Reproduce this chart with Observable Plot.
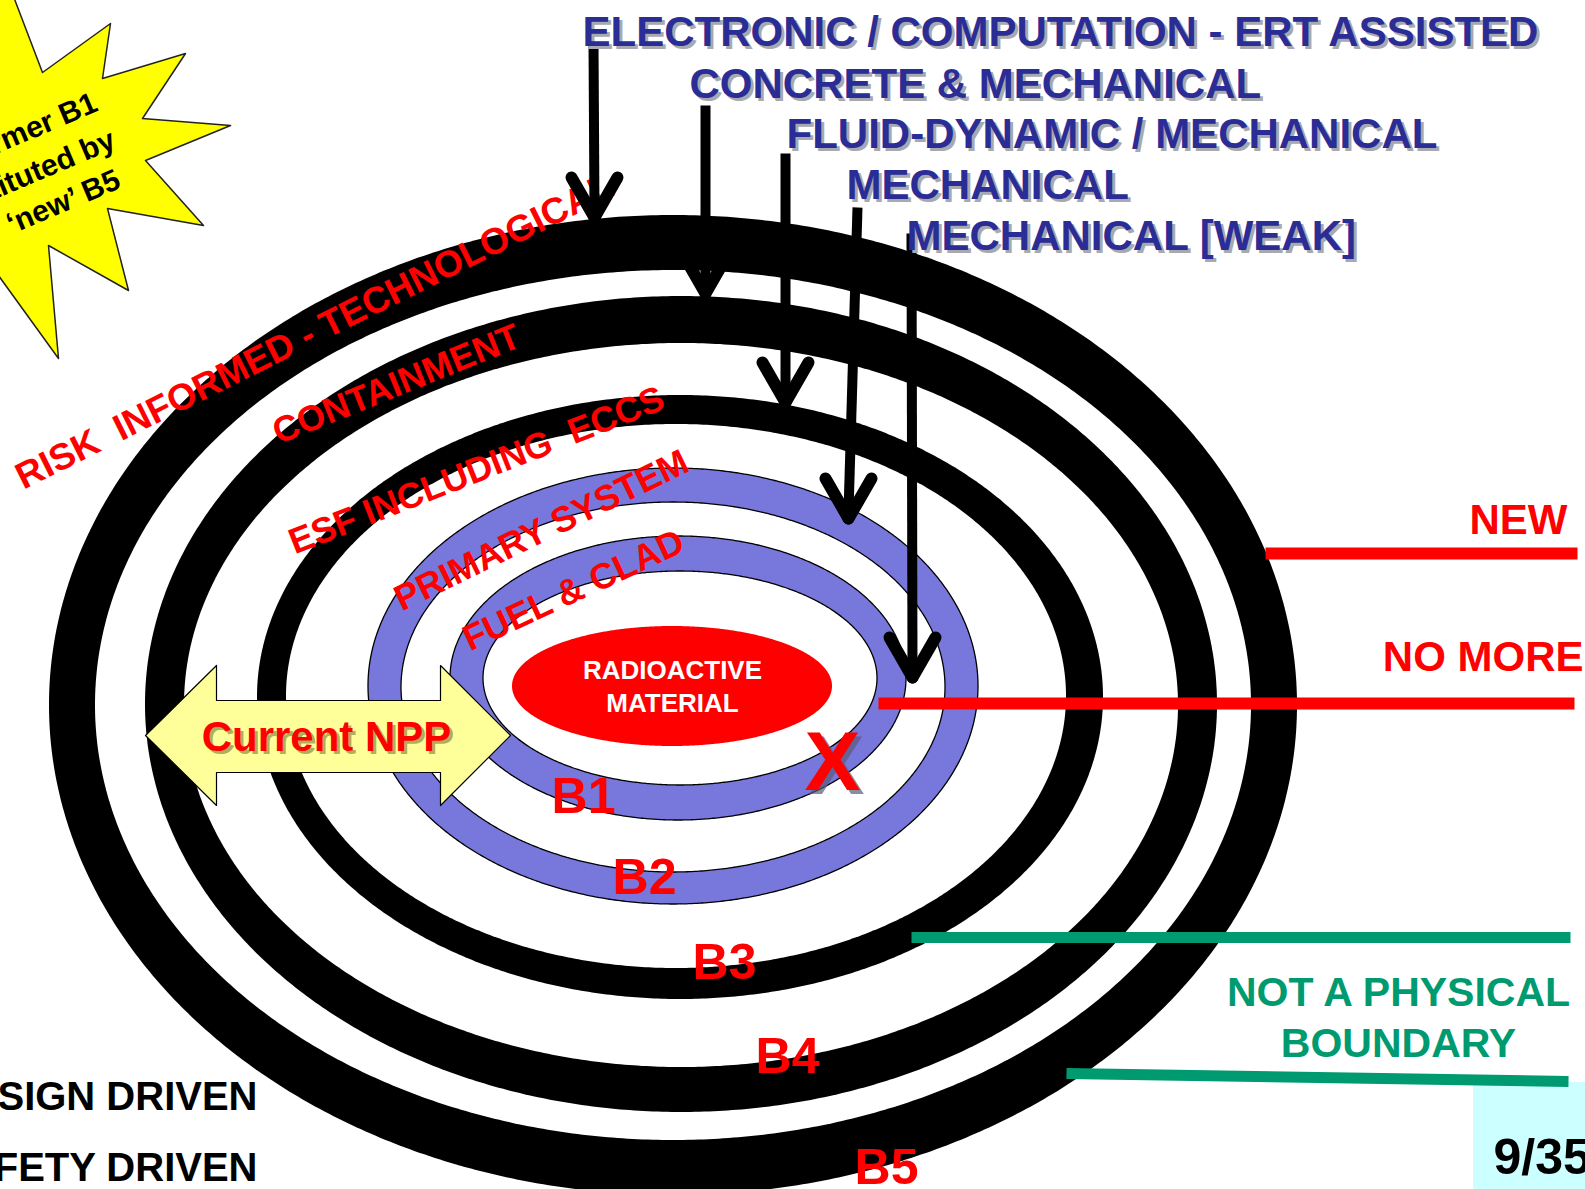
<!DOCTYPE html>
<html><head><meta charset="utf-8">
<script src="https://cdn.jsdelivr.net/npm/d3@7"></script>
<script src="https://cdn.jsdelivr.net/npm/@observablehq/plot@0.6"></script>
<style>html,body{margin:0;padding:0;overflow:hidden;background:#fff}</style>
</head><body><div id="chart"></div>
<script>
// ---------- data (pixel space of the 1585x1189 slide) ----------
const W = 1585, H = 1189;

// barrier rings, outermost first: outer ellipse and inner ellipse
const ringNames = ["B5", "B4", "B3", "B2", "B1"];
const ringCx    = [673, 681, 680, 673, 678];
const ringCy    = [705, 704, 697, 686, 678];
const ringRxOut = [624, 536, 423, 305, 228];
const ringRyOut = [490, 408, 302, 218, 142];
const ringCxIn  = [673, 681, 676, 673, 680];
const ringCyIn  = [705, 705, 696, 687, 678];
const ringRxIn  = [578, 497, 390, 272, 197];
const ringRyIn  = [435, 362, 272, 185, 107];
const ringFill  = ["#000000", "#000000", "#000000", "#7878dc", "#7878dc"];
const ringEdge  = [false, false, false, true, true];

// radioactive core
const core = {cx: 672, cy: 686, rx: 160, ry: 60};
const coreText = ["RADIOACTIVE", "MATERIAL"];
const coreTextY = [670, 703];

// labels along the rings
const ringLabels = ["RISK  INFORMED - TECHNOLOGICAL", "CONTAINMENT", "ESF INCLUDING  ECCS", "PRIMARY SYSTEM", "FUEL & CLAD"];
const ringLabelX = [314, 396, 476, 541, 573];
const ringLabelY = [331, 384, 470, 530, 590];
const ringLabelSize = [37, 36, 36, 36, 36];
const ringLabelAngle = [-26.5, -22, -21.5, -26, -25];

// B labels
const bLabels = ["B1", "B2", "B3", "B4", "B5"];
const bLabelX = [583, 644, 724, 787, 886];
const bLabelY = [796, 877, 962, 1056, 1167];

// headings (blue) with their arrows
const headingText = ["ELECTRONIC / COMPUTATION - ERT ASSISTED", "CONCRETE & MECHANICAL", "FLUID-DYNAMIC / MECHANICAL", "MECHANICAL", "MECHANICAL [WEAK]"];
const headingX = [582, 689, 786, 846, 906];
const headingY = [45, 97, 147, 198, 249];
const arrowTopX = [593, 705, 785, 857, 911];
const arrowTopY = [42, 105, 153, 207, 233];
const arrowTipX = [594, 705, 785, 848, 912];
const arrowTipY = [217, 293, 402, 518, 677];

// "Current NPP" double arrow outline
const nppX = [145, 216, 216, 440, 440, 510, 440, 440, 216, 216, 145];
const nppY = [735, 665, 700, 700, 665, 735, 805, 772, 772, 805, 735];

// yellow star outline
const starX = [5, 42, 110, 102, 185, 142, 230, 145, 203, 107, 128, 48, 58, -10, -80, -30, -80, -20, 5];
const starY = [-25, 72, 23, 78, 53, 118, 125, 160, 225, 208, 290, 245, 358, 264, 250, 150, 60, -40, -25];
const starText = ["Former B1", "substituted by", "\u2018new\u2019 B5"];
const starTextX = [95, 113, 118];
const starTextY = [101, 138, 178];

// right-side legend lines and labels
const redLines = [{x1: 1265, y1: 553, x2: 1577, y2: 553}, {x1: 878, y1: 703, x2: 1574, y2: 703}];
const greenLines = [{x1: 911, y1: 937, x2: 1570, y2: 937}, {x1: 1066, y1: 1073, x2: 1568, y2: 1081}];
const redLegend = ["NEW", "NO MORE"];
const redLegendX = [1567, 1583];
const redLegendY = [533, 670];
const greenLegend = ["NOT A PHYSICAL", "BOUNDARY"];
const greenLegendX = [1398, 1398];
const greenLegendY = [1005, 1056];

// bottom-left notes and page number
const notes = ["DESIGN DRIVEN", "SAFETY DRIVEN"];
const notesX = [257, 257];
const notesY = [1109, 1180];
const pageBox = {x1: 1473, x2: 1600, y1: 1082, y2: 1200};
const pageText = "9/35";

// ---------- helpers ----------
const FONT = "Liberation Sans, Arial, Helvetica, sans-serif";
function ellipse(cx, cy, rx, ry) {
  const n = 360;
  return d3.range(n + 1).map(i => {
    const t = Math.PI * i / n;
    return {x: cx - rx * Math.cos(t), y1: cy - ry * Math.sin(t), y2: cy + ry * Math.sin(t)};
  });
}
function ell(cx, cy, rx, ry, fill, edge) {
  return Plot.areaY(ellipse(cx, cy, rx, ry), {x: "x", y1: "y1", y2: "y2", curve: "linear",
    fill, stroke: edge ? "#000" : "none", strokeWidth: 1.3});
}
function rows(texts, xs, ys) {
  return texts.map((t, i) => ({t, x: xs[i], y: ys[i]}));
}
function poly(xs, ys) { return xs.map((x, i) => ({x, y: ys[i]})); }

const ringMarks = [];
ringNames.forEach((n, i) => {
  ringMarks.push(ell(ringCx[i], ringCy[i], ringRxOut[i], ringRyOut[i], ringFill[i], ringEdge[i]));
  ringMarks.push(ell(ringCxIn[i], ringCyIn[i], ringRxIn[i], ringRyIn[i], "#ffffff", ringEdge[i]));
});

const arrowIdx = d3.range(arrowTipX.length);
const heads = arrowIdx.flatMap(i => [-1, 1].map(s => ({x1: arrowTipX[i] + s * 23, y1: arrowTipY[i] - 40, x2: arrowTipX[i], y2: arrowTipY[i]})));

const chart = Plot.plot({
  width: W, height: H, margin: 0,
  x: {domain: [0, W], range: [0, W], axis: null},
  y: {domain: [0, H], range: [0, H], axis: null},
  style: {background: "white", overflow: "hidden"},
  marks: [
    ...ringMarks,
    ell(core.cx, core.cy, core.rx, core.ry, "#ff0000", false),
    Plot.text(rows(coreText, [core.cx, core.cx], coreTextY), {x: "x", y: "y", text: "t", fill: "white",
      fontFamily: FONT, fontWeight: "bold", fontSize: 26, textAnchor: "middle"}),
    // ring labels
    ...ringLabels.map((s, i) => Plot.text([{t: s, x: ringLabelX[i], y: ringLabelY[i]}], {x: "x", y: "y", text: "t",
      fill: "#ff0000", fontFamily: FONT, fontWeight: "bold", fontSize: ringLabelSize[i], rotate: ringLabelAngle[i], textAnchor: "middle"})),
    // Current NPP double arrow
    Plot.line(poly(nppX, nppY), {x: "x", y: "y", fill: "#ffff99", stroke: "#000", strokeWidth: 1.2, curve: "linear"}),
    Plot.text([{t: "Current NPP", x: 326, y: 737}], {x: "x", y: "y", text: "t", fill: "#8a8a40", fillOpacity: 0.7, dx: 3, dy: 3,
      fontFamily: FONT, fontWeight: "bold", fontSize: 42, textAnchor: "middle"}),
    Plot.text([{t: "Current NPP", x: 326, y: 737}], {x: "x", y: "y", text: "t", fill: "#ff0000",
      fontFamily: FONT, fontWeight: "bold", fontSize: 42, textAnchor: "middle"}),
    // B labels and X
    Plot.text(rows(bLabels, bLabelX, bLabelY), {x: "x", y: "y", text: "t", fill: "#ff0000",
      fontFamily: FONT, fontWeight: "bold", fontSize: 50, textAnchor: "middle"}),
    Plot.text([{t: "X", x: 832, y: 763}], {x: "x", y: "y", text: "t", fill: "#5a5a7a", fillOpacity: 0.7, dx: 4, dy: 4,
      fontFamily: FONT, fontWeight: "bold", fontSize: 84, textAnchor: "middle"}),
    Plot.text([{t: "X", x: 832, y: 763}], {x: "x", y: "y", text: "t", fill: "#ff0000",
      fontFamily: FONT, fontWeight: "bold", fontSize: 84, textAnchor: "middle"}),
    // arrows
    Plot.link(arrowIdx, {x1: i => arrowTopX[i], y1: i => arrowTopY[i], x2: i => arrowTipX[i], y2: i => arrowTipY[i] - 6,
      stroke: "#000", strokeWidth: 10, strokeLinecap: "butt"}),
    Plot.link(heads, {x1: "x1", y1: "y1", x2: "x2", y2: "y2", stroke: "#000", strokeWidth: 12, strokeLinecap: "round"}),
    // page box
    Plot.rect([pageBox], {x1: "x1", x2: "x2", y1: "y1", y2: "y2", fill: "#ccffff"}),
    // legend lines
    Plot.link(redLines, {x1: "x1", y1: "y1", x2: "x2", y2: "y2", stroke: "#ff0000", strokeWidth: 12, strokeLinecap: "butt"}),
    Plot.link(greenLines, {x1: "x1", y1: "y1", x2: "x2", y2: "y2", stroke: "#009a70", strokeWidth: 11, strokeLinecap: "butt"}),
    Plot.text(rows(redLegend, redLegendX, redLegendY), {x: "x", y: "y", text: "t", fill: "#ff0000",
      fontFamily: FONT, fontWeight: "bold", fontSize: 42, textAnchor: "end", lineAnchor: "bottom"}),
    Plot.text(rows(greenLegend, greenLegendX, greenLegendY), {x: "x", y: "y", text: "t", fill: "#009a70",
      fontFamily: FONT, fontWeight: "bold", fontSize: 41, textAnchor: "middle", lineAnchor: "bottom"}),
    // headings with shadow
    Plot.text(rows(headingText, headingX, headingY), {x: "x", y: "y", text: "t", fill: "#a8a8b0", dx: 3, dy: 3,
      fontFamily: FONT, fontWeight: "bold", fontSize: 42, textAnchor: "start", lineAnchor: "bottom"}),
    Plot.text(rows(headingText, headingX, headingY), {x: "x", y: "y", text: "t", fill: "#2b2d96",
      fontFamily: FONT, fontWeight: "bold", fontSize: 42, textAnchor: "start", lineAnchor: "bottom"}),
    // notes and page number
    Plot.text(rows(notes, notesX, notesY), {x: "x", y: "y", text: "t", fill: "#000",
      fontFamily: FONT, fontWeight: "bold", fontSize: 40, textAnchor: "end", lineAnchor: "bottom"}),
    Plot.text([{t: pageText, x: 1493, y: 1173}], {x: "x", y: "y", text: "t", fill: "#000",
      fontFamily: FONT, fontWeight: "bold", fontSize: 50, textAnchor: "start", lineAnchor: "bottom"}),
    // star
    Plot.line(poly(starX, starY), {x: "x", y: "y", fill: "#ffff00", stroke: "#222", strokeWidth: 1.5, curve: "linear"}),
    Plot.text(rows(starText, starTextX, starTextY), {x: "x", y: "y", text: "t", fill: "#000",
      fontFamily: FONT, fontWeight: "bold", fontSize: 30, rotate: -23, textAnchor: "end"})
  ]
});
document.getElementById("chart").appendChild(chart);
</script></body></html>
